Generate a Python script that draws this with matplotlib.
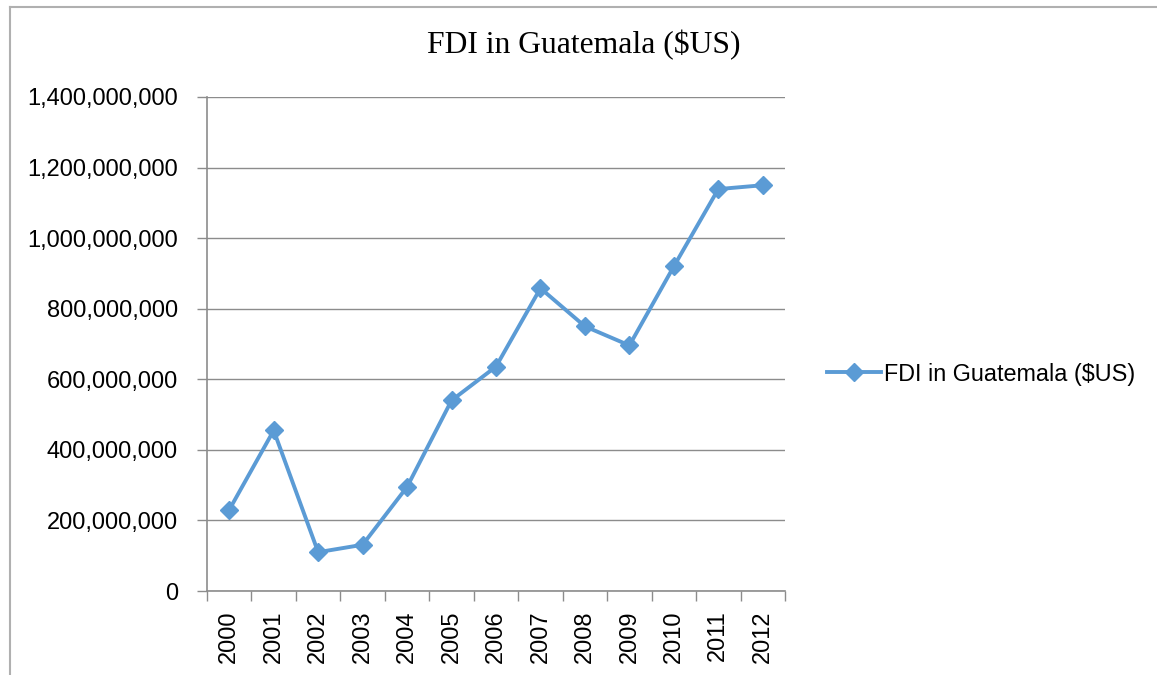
import matplotlib.pyplot as plt
from matplotlib.lines import Line2D
from matplotlib.ticker import FuncFormatter

years = ['2000', '2001', '2002', '2003', '2004', '2005', '2006',
         '2007', '2008', '2009', '2010', '2011', '2012']
fdi = [230e6, 455e6, 110e6, 131e6, 295e6, 540e6, 636e6,
       858e6, 750e6, 696e6, 920e6, 1139e6, 1150e6]
y_ticks = [0, 200e6, 400e6, 600e6, 800e6, 1000e6, 1200e6, 1400e6]

blue = '#5B9BD5'
gray = '#8C8C8C'
font = 'Liberation Sans'

fig = plt.figure(figsize=(11.57, 6.75), dpi=100)
ax = fig.add_axes([207 / 1157, 1 - 591 / 675, (785 - 207) / 1157, (591 - 97) / 675])

x = list(range(len(years)))
ax.plot(x, fdi, color=blue, lw=2.8, marker='D', ms=9, label='FDI in Guatemala ($US)')

ax.set_xlim(-0.5, len(years) - 0.5)
ax.set_ylim(0, 1400e6)
ax.set_yticks(y_ticks)
ax.yaxis.set_major_formatter(FuncFormatter(lambda v, p: f'{int(v):,}'))
ax.grid(axis='y', color=gray, lw=1)
ax.set_axisbelow(True)

# category boundaries get the tick marks, centers get the labels
ax.set_xticks([i - 0.5 for i in range(len(years) + 1)])
ax.set_xticklabels([])
ax.set_xticks(x, minor=True)
ax.set_xticklabels(years, minor=True, rotation=90, fontsize=17, family=font)
ax.tick_params(axis='x', which='major', length=7, color=gray, width=1)
ax.tick_params(axis='x', which='minor', length=0, pad=14)
ax.tick_params(axis='y', length=7, color=gray, width=1, pad=14, labelsize=17)
for lab in ax.get_yticklabels():
    lab.set_family(font)

for s in ['top', 'right']:
    ax.spines[s].set_visible(False)
for s in ['left', 'bottom']:
    ax.spines[s].set_color(gray)
    ax.spines[s].set_linewidth(1.2)

fig.text(584 / 1157, 1 - 45 / 675, 'FDI in Guatemala ($US)', ha='center', va='center',
         fontsize=22.8, family='Liberation Serif')

handle = Line2D([], [], color=blue, lw=2.8, marker='D', ms=9)
fig.legend([handle], ['FDI in Guatemala ($US)'], loc='center left',
           bbox_to_anchor=(806 / 1157, 1 - 374 / 675), frameon=False,
           prop={'family': font, 'size': 16.8}, handlelength=2.3, handletextpad=0.15)

# outer chart frame
fig.add_artist(Line2D([10 / 1157, 10 / 1157], [0, 1 - 7 / 675], color='#B0B0B0', lw=1.5))
fig.add_artist(Line2D([10 / 1157, 1], [1 - 7 / 675, 1 - 7 / 675], color='#B0B0B0', lw=1.5))

fig.savefig('out.png', dpi=100)
